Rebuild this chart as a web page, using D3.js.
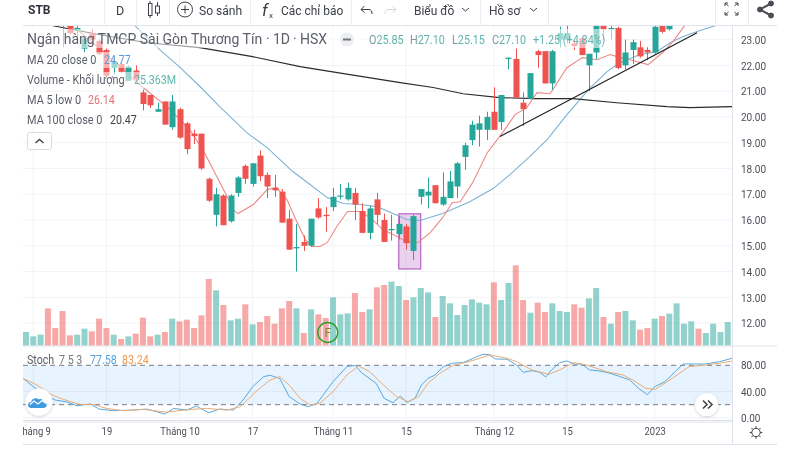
<!DOCTYPE html>
<html><head><meta charset="utf-8">
<script src="https://cdnjs.cloudflare.com/ajax/libs/d3/7.8.5/d3.min.js"></script>
<style>
html,body{margin:0;padding:0;background:#fff;overflow:hidden}
svg{display:block;filter:blur(.3px)}
text{font-family:Roboto,"Liberation Sans",sans-serif}
</style></head><body><svg id="c" width="800" height="450"></svg>
<script>
// ---- data ----
const opens=[24.6,24.7,24.6,24.9,24.4,24.0,23.7,23.35,22.65,23.25,22.95,22.6,21.9,22.05,21.4,21.8,20.95,20.85,20.2,20.6,19.6,20.3,19.75,19.35,19.35,17.6,16.2,16.95,15.95,17.05,18.1,17.4,18.5,17.75,17.25,17.1,16.05,14.9,15.15,15.0,16.45,16.2,16.5,16.9,16.8,17.05,16.35,15.5,16.8,16.0,15.6,15.45,15.75,14.8,16.9,16.95,17.35,16.6,16.85,17.3,18.45,19.1,19.5,19.5,20.2,19.8,22.25,22.25,20.55,20.7,22.55,22.55,21.3,23.0,23.0,22.85,23.05,22.0,22.5,23.6,23.4,23.45,22.0,22.6,22.7,22.6,22.5,23.55,23.4,23.6,24.1,24.4,24.9,24.6,24.9,25.3,25.5,25.85];
const closes=[24.9,25.0,24.9,24.2,24.0,23.7,23.25,23.45,23.05,23.0,22.45,21.6,22.15,21.75,21.95,21.45,20.5,20.45,20.3,19.7,20.6,19.2,18.75,19.25,18.0,16.75,17.0,15.8,16.95,17.65,17.6,18.2,17.7,17.3,17.15,15.9,14.85,14.95,15.0,16.05,16.1,16.15,16.9,16.95,17.25,16.6,15.5,16.45,16.2,15.15,15.65,15.85,15.1,16.15,17.2,17.1,16.65,16.9,17.5,18.2,18.9,19.7,19.75,20.0,19.5,20.85,22.3,20.75,20.3,21.7,22.4,21.3,22.55,23.25,23.25,22.75,22.4,22.45,23.6,23.4,23.45,21.9,22.5,22.9,22.35,22.5,23.5,23.3,23.55,24.1,24.5,24.8,24.6,25.0,25.4,25.6,25.85,27.1];
const highs=[25.0,25.1,25.1,25.0,24.5,24.1,23.8,23.6,23.1,23.4,23.0,22.65,22.4,22.1,22.0,22.0,21.05,20.85,20.55,20.6,20.85,20.35,19.8,19.5,19.35,17.65,17.25,17.0,17.0,17.7,18.15,18.2,18.7,17.85,17.75,17.2,16.4,15.85,15.4,16.05,16.85,16.5,17.25,17.4,17.45,17.25,16.65,16.55,17.05,16.25,16.2,16.15,15.85,16.2,17.2,17.65,17.35,17.85,17.9,18.25,19.0,19.85,20.05,20.2,21.15,20.85,22.3,22.65,20.95,21.7,22.6,22.55,22.6,23.5,23.6,23.0,23.1,22.45,23.8,23.75,23.6,23.5,23.0,23.0,22.95,22.7,23.55,23.6,23.7,24.2,24.6,24.9,25.0,25.1,25.5,25.7,26.0,27.1];
const lows=[24.5,24.5,24.5,24.1,23.9,22.7,23.2,23.1,22.5,22.85,22.4,21.55,21.65,21.7,21.4,21.4,20.25,20.35,20.2,19.7,19.5,19.15,18.55,18.95,17.95,16.7,15.75,15.8,15.9,16.9,17.4,17.3,17.5,16.85,16.9,15.9,14.85,14.0,14.8,14.95,16.05,15.55,16.35,16.8,16.75,16.0,15.5,15.25,15.85,15.15,15.2,15.25,14.85,14.45,16.6,16.45,16.65,16.55,16.85,16.85,17.95,18.9,18.85,19.1,19.5,19.5,21.85,20.75,19.65,20.7,21.9,21.3,21.05,22.7,22.85,22.6,22.4,21.0,22.25,23.0,23.0,21.85,21.85,22.05,22.3,22.2,22.45,23.25,23.35,23.55,24.0,24.3,24.5,24.5,24.8,25.2,25.3,25.15];
const volumes=[24.6,16.8,19.8,67.2,31.8,62.4,18.6,19.8,30.6,25.8,48.6,31.8,19.8,12,16.8,21.6,50.4,16.8,19.8,24.6,48.6,43.8,46.8,31.8,54.6,120,99.6,73.2,45.6,48.6,74.4,38.4,42.6,53.4,39.6,67.2,80.4,67.2,22.8,65.4,56.4,49.8,87,56.4,58.2,94.8,60.6,65.4,105,109.2,115.2,107.4,82.2,87,103.8,96,51.6,89.4,76.2,55.2,73.2,83.4,77.4,74.4,114,82.2,112.8,144.6,82.2,59.4,77.4,60.6,76.2,62.4,60.6,74.4,68.4,85.2,103.8,51.6,39.6,60.6,62.4,45.6,28.8,31.8,48.6,53.4,57.6,76.2,39.6,43.8,30.6,22.8,39.6,24.6,42.6,25.363];

const ma20Idx=[14.9,18.3,21.1,23.8,26.5,30.2,33,34.3,36.5,38.9,41.2,43.4,45.7,48,50.2,52.1,53.9,57,60.7,63.9,66.2,68.9,71.3,74,77.2,79.5,81.3,84,86.3,88.1,89.9,92.2,94.3,96.6];
const ma20Val=[23.54,22.61,21.91,21.18,20.4,19.39,18.81,18.46,17.88,17.37,16.87,16.64,16.6,16.52,16.25,16.02,15.98,16.25,16.71,17.22,17.76,18.46,19.12,20.09,21.14,21.76,22.11,22.42,22.53,22.88,23.12,23.35,23.54,23.77];
const ma100Idx=[3.7,10.1,16.6,23.8,31,37.5,44.3,51.2,55.7,59.8,64.8,69.4,74.8,80.8,87.7,90.8,96.6];
const ma100Val=[23.54,23.19,22.88,22.69,22.34,21.95,21.64,21.33,21.14,20.9,20.75,20.71,20.71,20.55,20.4,20.36,20.4];
const ma5Idx=[6.7,11.5,16,19.3,22.4,24.2,25.6,27.5,28.3,29,31.1,33,34.3,35.7,37.1,38.2,39.1,40.2,41.2,42.5,44,45.7,47.1,48.8,50.2,52.1,53.6,55.3,57,58.3,59.4,61.1,63.1,65.3,66.9,68.5,69.9,71.7,74,76.1,78.1,79.9,81.3,83,85.1,87.1,88.5,90.1,92.2];
const ma5Val=[23.47,22.3,21.14,20.4,19.51,18.73,17.96,16.91,16.4,16.25,16.6,17.18,17.26,16.79,15.9,15.24,14.97,14.97,15.12,15.74,16.33,16.33,16.09,15.63,15.44,15.16,15.12,15.51,16.09,16.67,16.71,17.45,18.61,19.43,20.09,20.36,20.94,20.9,21.91,22.3,22.22,22.42,22.3,22.19,22.03,22.5,22.92,23.54,24.15];
const trendIdx=[64.84,91.8];
const trendVal=[19.24,23.27];
const boxIdx=[51,54];
const boxVal=[16.24,14.1];

const kIdx=[-0.4,1,3,4,5.5,7,8.8,10,12,14.7,16.5,19,20.2,22,23.3,25,26.5,28.4,29.7,31,32.5,33.4,34.7,36,37.5,38.6,39.8,42,43.9,45,46,47.9,49,50.2,51.2,52.1,53.2,54.1,55,55.95,57.1,58.2,59.8,61.2,62.5,63.3,64.2,65.8,67.1,68,69.2,70.3,71.1,71.9,73,74,75.1,76,77.1,78.5,79.6,81.3,82.6,83.8,85,86,87.4,88.8,89.9,91.3,93,94.9,96.6];
const kVal=[60.1,47.4,32.2,27.1,24.5,18.4,21,13.3,10.8,11.8,13.3,5.7,14.3,11.8,17.9,7.7,13.3,11.8,27.1,47.4,62.7,64.7,60.1,32.2,21,16.9,22,55,78,80,67.8,52.5,29.6,23,33.2,23.5,29.6,50,60.1,65.2,78,83.1,84.1,90.7,96.8,96.3,89.7,89.2,80.5,69.3,71.9,69.3,62.2,72.9,84.1,86.6,81.5,82,72.9,71.3,68.8,62.7,57.6,44.9,35.2,47.4,55,70.3,82,82,82,85.6,90.7];
const dIdx=[-0.4,1.5,3.3,5.1,7.4,9.2,11,13.3,16,19.2,22,24.7,27.5,29.3,31.6,33.4,34.7,36,37.5,38.9,40.2,42,43.9,45.5,47,48.9,50.7,52.3,53.7,55,56.6,58.5,60.3,62.1,63.5,65.8,67.1,69.2,71.5,73,74.9,76.7,79.4,81.7,83,84.8,86.1,88.4,90.7,93,94.9,96.6];
const dVal=[60.1,50,36.2,28.1,20.4,20.4,14.3,10.8,12.8,8.7,12.3,14.3,11.8,16.9,41.3,57.6,62.7,50,29.6,19.4,22,39.8,65.2,79,70.3,50,32.2,24.5,32.2,52.5,67.8,80.5,84.6,90.7,95.8,90.7,85.6,72.9,66.3,72.9,84.1,80.5,70.3,65.2,57.6,44.9,43.4,60.1,78,80.5,83.1,86.6];

const priceTicks=[12,13,14,15,16,17,18,19,20,21,22,23];
const stochTicks=[0,40,80];
const stochLevels=[20,80];
const timeTickIdx=[1,11,21,31,42,52,64,74,86];
const timeTickLabels=["Tháng 9","19","Tháng 10","17","Tháng 11","15","Tháng 12","15","2023"];

// ---- scales ----
const L=23,R=732,EDGE=777,TOP=25.5,SEP=346,SBOT=420.5,BOT=444.5;
const x=d3.scaleLinear().domain([0,97]).range([26,735.07]);
const y=d3.scaleLinear().domain([12,23]).range([323.1,39.6]);
const yv=d3.scaleLinear().domain([0,120]).range([345.7,279]);
const ys=d3.scaleLinear().domain([0,80]).range([417.8,365.3]);

const RED="#ef5350",GREEN="#26a69a",GRID="#f1f3f6",LINE="#e0e3eb",TXT="#4a4e58";
const svg=d3.select("#c");
svg.append("rect").attr("width",800).attr("height",450).attr("fill","#fff");
const defs=svg.append("defs");
defs.append("clipPath").attr("id","cp").append("rect").attr("x",L).attr("y",TOP).attr("width",R-L).attr("height",SEP-TOP);
defs.append("clipPath").attr("id","cs").append("rect").attr("x",L).attr("y",SEP).attr("width",R-L).attr("height",SBOT-SEP);
defs.append("clipPath").attr("id","cx").append("rect").attr("x",L).attr("y",SBOT).attr("width",R-L).attr("height",BOT-SBOT);
defs.append("clipPath").attr("id","ca").append("rect").attr("x",R).attr("y",SEP).attr("width",EDGE-R).attr("height",SBOT-SEP+3);
const sh=defs.append("filter").attr("id","sh").attr("x","-40%").attr("y","-40%").attr("width","180%").attr("height","180%");
sh.append("feDropShadow").attr("dx",0).attr("dy",1).attr("stdDeviation",1.6).attr("flood-color","#000").attr("flood-opacity",.2);

// horizontally condensed text, as in the reference
const squeeze=(sel,f)=>sel.each(function(){const t=d3.select(this),x0=+t.attr("x")||0;t.attr("transform",`translate(${x0*(1-f)},0) scale(${f},1)`);});

// grid
const grid=svg.append("g");
grid.selectAll(".h").data(priceTicks).join("line").attr("class","h").attr("x1",L).attr("x2",R).attr("y1",d=>y(d)).attr("y2",d=>y(d)).attr("stroke",GRID);
grid.selectAll(".s").data([40,0]).join("line").attr("class","s").attr("x1",L).attr("x2",R).attr("y1",d=>ys(d)).attr("y2",d=>ys(d)).attr("stroke",GRID);
grid.selectAll(".v").data(timeTickIdx).join("line").attr("class","v").attr("x1",d=>x(d)).attr("x2",d=>x(d)).attr("y1",TOP).attr("y2",SBOT).attr("stroke",GRID);

// price pane
const pane=svg.append("g").attr("clip-path","url(#cp)");
const idx=d3.range(opens.length);
const col=i=>closes[i]>=opens[i]?GREEN:RED;
pane.append("g").selectAll("rect").data(idx).join("rect")
  .attr("x",i=>x(i)-3).attr("width",6).attr("y",i=>yv(volumes[i])).attr("height",i=>yv(0)-yv(volumes[i]))
  .attr("fill",col).attr("opacity",.5);
pane.append("rect").attr("x",x(boxIdx[0])).attr("y",y(boxVal[0])).attr("width",x(boxIdx[1])-x(boxIdx[0])).attr("height",y(boxVal[1])-y(boxVal[0]))
  .attr("fill","#ba68c8").attr("fill-opacity",.3).attr("stroke","#ab47bc").attr("stroke-width",1);
const lineOf=(xs,vs,sc)=>d3.line().x((d,i)=>x(xs[i])).y(d=>sc(d))(vs);
pane.append("path").attr("d",lineOf(ma20Idx,ma20Val,y)).attr("fill","none").attr("stroke","#7cb3d3").attr("stroke-width",1.1);
pane.append("path").attr("d",lineOf(ma100Idx,ma100Val,y)).attr("fill","none").attr("stroke","#2b2b2b").attr("stroke-width",1.1);
pane.append("path").attr("d",lineOf(ma5Idx,ma5Val,y)).attr("fill","none").attr("stroke","#ec8a85").attr("stroke-width",1.1);
pane.append("g").selectAll("line").data(idx).join("line")
  .attr("x1",i=>Math.round(x(i))+.5).attr("x2",i=>Math.round(x(i))+.5).attr("y1",i=>y(highs[i])).attr("y2",i=>y(lows[i])).attr("stroke",col);
pane.append("g").selectAll("rect").data(idx).join("rect")
  .attr("x",i=>Math.round(x(i))-2.5).attr("width",6)
  .attr("y",i=>y(Math.max(opens[i],closes[i])))
  .attr("height",i=>Math.max(1,Math.abs(y(opens[i])-y(closes[i])))).attr("fill",col);
pane.append("path").attr("d",lineOf(trendIdx,trendVal,y)).attr("fill","none").attr("stroke","#1c1c1c").attr("stroke-width",1.1);
// F marker
pane.append("circle").attr("cx",327.7).attr("cy",332.5).attr("r",10).attr("fill","none").attr("stroke","#2ca02c").attr("stroke-width",1.4);
pane.append("text").attr("x",327.7).attr("y",337).attr("text-anchor","middle").attr("font-size",12).attr("fill","#7a8a3a").text("F");

// stoch pane
const sp=svg.append("g").attr("clip-path","url(#cs)");
sp.append("rect").attr("x",L).attr("width",R-L).attr("y",ys(80)).attr("height",ys(20)-ys(80)).attr("fill","#2196f3").attr("fill-opacity",.11);
sp.selectAll(".lvl").data(stochLevels).join("line").attr("class","lvl").attr("x1",L).attr("x2",R).attr("y1",d=>ys(d)).attr("y2",d=>ys(d))
  .attr("stroke","#787b86").attr("stroke-width",1).attr("stroke-dasharray","5 4");
sp.append("path").attr("d",lineOf(kIdx,kVal,ys)).attr("fill","none").attr("stroke","#5aa8dc").attr("stroke-width",1);
sp.append("path").attr("d",lineOf(dIdx,dVal,ys)).attr("fill","none").attr("stroke","#e9ac78").attr("stroke-width",1);

// frame
const fr=svg.append("g").attr("stroke",LINE).attr("fill","none");
[[L,TOP,EDGE,TOP],[L,SEP,EDGE,SEP],[L,SBOT,R,SBOT],[L,SBOT+1.5,R,SBOT+1.5],[L,BOT,EDGE,BOT],[R+.5,TOP,R+.5,BOT]].forEach(a=>fr.append("line").attr("x1",a[0]).attr("y1",a[1]).attr("x2",a[2]).attr("y2",a[3]));

// axes
const axStyle=(g,f)=>{g.select(".domain").remove();g.selectAll("text").attr("fill",TXT).attr("font-size",11.5).style("font-family",'Roboto,"Liberation Sans",sans-serif').call(squeeze,f);};
svg.append("g").attr("transform",`translate(${R},0)`).call(d3.axisRight(y).tickValues(priceTicks).tickSize(0).tickPadding(9).tickFormat(d3.format(".2f"))).call(axStyle,.87);
svg.append("g").attr("clip-path","url(#ca)").append("g").attr("transform",`translate(${R},0)`).call(d3.axisRight(ys).tickValues(stochTicks).tickSize(0).tickPadding(9).tickFormat(d3.format(".2f"))).call(axStyle,.87);
svg.append("g").attr("clip-path","url(#cx)").append("g").attr("transform","translate(0,422)")
 .call(d3.axisBottom(x).tickValues(timeTickIdx).tickSize(0).tickPadding(5).tickFormat((d,i)=>timeTickLabels[i])).call(axStyle,.82);

// legend
const veil=svg.append("g").attr("fill","#fff").attr("fill-opacity",.55);
[[25,29,589,19],[25,52,107,16],[25,72,154,16],[25,92,95,16],[25,112,115,16]].forEach(r=>veil.append("rect").attr("x",r[0]).attr("y",r[1]).attr("width",r[2]).attr("height",r[3]));
const T=(xx,yy,s,c,fs,f)=>{const t=svg.append("text").attr("x",xx).attr("y",yy).attr("fill",c).attr("font-size",fs||12).attr("dominant-baseline","central").text(s);if(f)t.call(squeeze,f);return t;};
const LG="#5b5f69";
T(27,39,"Ngân hàng TMCP Sài Gòn Thương Tín",LG,14);
T(266,39,"·",LG,14);T(273,39,"1D",LG,14);T(293,39,"·",LG,14);T(300,39,"HSX",LG,14);
svg.append("circle").attr("cx",347).attr("cy",39.5).attr("r",7).attr("fill","#eceef1");
svg.append("rect").attr("x",343).attr("y",38.5).attr("width",8).attr("height",2).attr("fill","#70747d");
const TEAL="#5fb5ad";
[[369,"O","25.85"],[410,"H","27.10"],[452,"L","25.15"],[492,"C","27.10"]].forEach(a=>{
  const t=T(a[0],40,"",TEAL,12);
  t.append("tspan").attr("fill","#7c9a9a").text(a[1]);t.append("tspan").text(a[2]);
  t.call(squeeze,.9);
});
T(533,40,"+1.25 (+4.84%)",TEAL,12,.9);
T(27,60,"MA 20 close 0",LG,12,.91);T(104,60,"24.77","#5a9bd8",12,.89);
T(27,80,"Volume - Khối lượng",LG,12,.91);T(134,80,"25.363M",TEAL,12,.89);
T(27,100,"MA 5 low 0",LG,12,.91);T(88,100,"26.14","#e57373",12,.89);
T(27,120,"MA 100 close 0",LG,12,.91);T(110,120,"20.47","#444",12,.89);
svg.append("rect").attr("x",27.5).attr("y",132.5).attr("width",24).attr("height",17).attr("rx",2).attr("fill","#fff").attr("stroke","#d8dbe2");
svg.append("path").attr("d","M35.5 143l4-3.5 4 3.5").attr("fill","none").attr("stroke","#444").attr("stroke-width",1.4);
T(27,360,"Stoch",LG,12,.89);T(59,360,"7 5 3","#777b86",12,.89);T(90,360,"77.58","#5aa5dc",12,.89);T(122,360,"83.24","#ef9a50",12,.89);

// toolbar
[104,136,169,250,351,480,548,715,748].forEach(v=>svg.append("line").attr("x1",v+.5).attr("x2",v+.5).attr("y1",0).attr("y2",TOP).attr("stroke","#eceef2"));
const DK="#3d4049";
T(28,10,"STB","#2f323a",12).attr("font-weight",700);
T(120,10,"D",DK,12.5).attr("text-anchor","middle");
const ic=svg.append("g").attr("fill","none").attr("stroke",DK).attr("stroke-width",1);
ic.append("rect").attr("x",148.5).attr("y",3.5).attr("width",3.5).attr("height",12);
ic.append("path").attr("d","M150 1v2.5M150 15.5V18M157.5 2v4M157.5 13v3");
ic.append("rect").attr("x",155.5).attr("y",6).attr("width",4).attr("height",7);
ic.append("circle").attr("cx",185).attr("cy",9.5).attr("r",7.5);
ic.append("path").attr("d","M185 5.5v8M181 9.5h8");
T(199,10,"So sánh",DK,13,.93);
T(262,10,"f",DK,17).attr("font-style","italic").attr("font-family","Liberation Serif");
T(269,15,"x",DK,8);
T(281,10,"Các chỉ báo",DK,13,.92);
ic.append("path").attr("d","M361 9.5h8c2 0 3 1.5 3 4.5M361 9.5l3.500-3.500M361 9.5l3.500 3");
svg.append("path").attr("d","M396 9.5h-8c-2 0-3 1.5-3 4.500M396 9.5l-3.500-3.500M396 9.5l-3.500 3").attr("fill","none").attr("stroke","#d5d7dc");
T(414,10,"Biểu đồ",DK,13,.92);
ic.append("path").attr("d","M462 8l3.500 3 3.500-3M530 8l3.500 3 3.500-3");
T(489,10,"Hồ sơ",DK,13,.92);
ic.append("path").attr("d","M725 6V3h3M735 3h3v3M725 12v3h3M738 12v3h-3M725 3l3.500 3M738 3l-3.500 3M725 15l3.500-3M738 15l-3.500-3");
svg.append("g").attr("fill","#4a4d55").attr("stroke","#4a4d55").call(g=>{
  g.append("path").attr("d","M771 3.500L760 9.500l11 6").attr("fill","none").attr("stroke-width",2);
  [[771,3.5],[760,9.5],[771,15.5]].forEach(p=>g.append("circle").attr("cx",p[0]).attr("cy",p[1]).attr("r",2.5));
});

// floating buttons
svg.append("circle").attr("cx",39).attr("cy",402).attr("r",13.5).attr("fill","#fff").attr("filter","url(#sh)");
svg.append("path").attr("d","M31 408c-4 0-4-6 0-6 1-4 5-5 8-2.500 2-1 4 0 4.500 2 4 0 4.500 6.500 0 6.500z").attr("fill","#3f9be0");
svg.append("path").attr("d","M30 404.500l4-3.500 4 3 4-3.500 4 3").attr("fill","none").attr("stroke","#fff").attr("stroke-width",1.3);
svg.append("circle").attr("cx",706.7).attr("cy",404.5).attr("r",11.5).attr("fill","#fff").attr("filter","url(#sh)");
svg.append("path").attr("d","M703 400.500l4 4-4 4M708 400.500l4 4-4 4").attr("fill","none").attr("stroke","#444").attr("stroke-width",1.6);

// gear
const gear=svg.append("g").attr("transform","translate(756,432.500)").attr("fill","none").attr("stroke","#3d4049");
gear.append("circle").attr("r",4.2);
d3.range(8).forEach(k=>{const a=k*Math.PI/4;gear.append("line").attr("x1",4.2*Math.cos(a)).attr("y1",4.2*Math.sin(a)).attr("x2",6.3*Math.cos(a)).attr("y2",6.3*Math.sin(a));});
</script></body></html>
